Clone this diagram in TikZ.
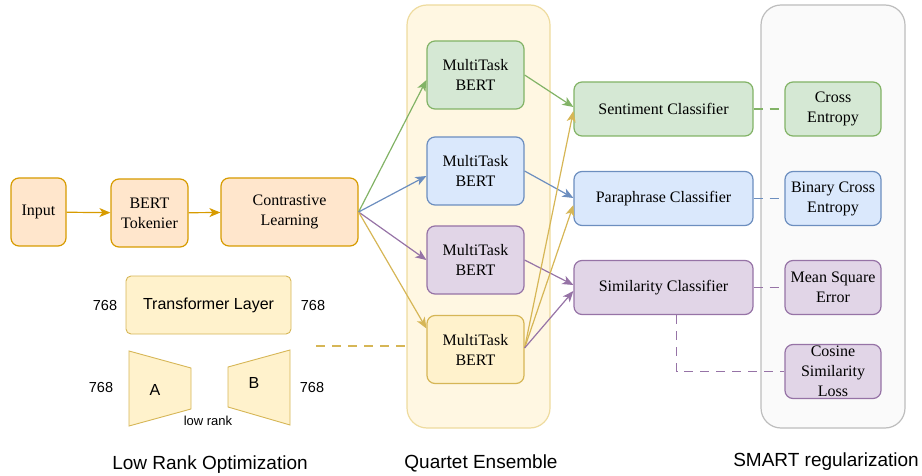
\documentclass[tikz,border=0pt]{standalone}
\usepackage{fontspec}
\setmainfont{Liberation Serif}
\setsansfont{Liberation Sans}
\usetikzlibrary{arrows.meta,calc}
\definecolor{oF}{HTML}{FFE6CC}\definecolor{oD}{HTML}{D79B00}
\definecolor{yF}{HTML}{FFF2CC}\definecolor{yD}{HTML}{D6B656}
\definecolor{gF}{HTML}{D5E8D4}\definecolor{gD}{HTML}{82B366}
\definecolor{bF}{HTML}{DAE8FC}\definecolor{bD}{HTML}{6C8EBF}
\definecolor{pF}{HTML}{E1D5E7}\definecolor{pD}{HTML}{9673A6}
\definecolor{qF}{HTML}{FFF7E2}\definecolor{qD}{HTML}{EEDB9E}
\definecolor{sF}{HTML}{FAFAFA}\definecolor{sD}{HTML}{BDBDBD}
\tikzset{
  box/.style={draw, line width=1.2pt, rounded corners=8pt, inner sep=0pt, align=center,
    font=\fontsize{16}{20}\selectfont},
  orbox/.style={box, fill=oF, draw=oD},
  yebox/.style={box, fill=yF, draw=yD},
  grbox/.style={box, fill=gF, draw=gD},
  blbox/.style={box, fill=bF, draw=bD},
  pubox/.style={box, fill=pF, draw=pD},
  mtbox/.style={minimum width=97pt, minimum height=68pt},
  clsbox/.style={minimum width=179pt, minimum height=54pt},
  lossbox/.style={minimum width=96pt, minimum height=54pt},
  conn/.style={line width=1.2pt, -{Stealth[length=11pt,width=9pt,inset=3pt]}},
  dconn/.style={line width=1.3pt, dash pattern=on 9pt off 7pt},
  sanslbl/.style={font=\sffamily\fontsize{14.5}{17}\selectfont, inner sep=0pt},
  caption/.style={font=\sffamily\fontsize{19}{22}\selectfont, inner sep=0pt},
  container/.style={line width=1.2pt, rounded corners=20pt, inner sep=0pt},
}
\begin{document}
\begin{tikzpicture}[x=1pt,y=-1pt]
\useasboundingbox (0,0) rectangle (922,476);
% containers
\node[container, fill=qF, draw=qD, minimum width=143pt, minimum height=423pt] (qe) at (478.5,216.5) {};
\node[container, fill=sF, draw=sD, minimum width=144pt, minimum height=423pt] (sm) at (833,216.5) {};
% left chain
\node[orbox, minimum width=55pt, minimum height=68pt] (in) at (38.5,212) {Input};
\node[orbox, minimum width=77pt, minimum height=68pt] (tok) at (149.5,213) {BERT\\Tokenier};
\node[orbox, minimum width=137pt, minimum height=68pt] (cl) at (289.5,212) {Contrastive\\Learning};
\draw[conn, oD] (in) -- (tok);
\draw[conn, oD] (tok) -- (cl);
% multitask
\node[grbox, mtbox] (mt1) at (475.5,75) {MultiTask\\BERT};
\node[blbox, mtbox] (mt2) at (475.5,171) {MultiTask\\BERT};
\node[pubox, mtbox] (mt3) at (475.5,260) {MultiTask\\BERT};
\node[yebox, mtbox] (mt4) at (475.5,349.5) {MultiTask\\BERT};
% classifiers
\node[grbox, clsbox] (sc) at (663.5,109) {Sentiment Classifier};
\node[blbox, clsbox] (pc) at (663.5,198.5) {Paraphrase Classifier};
\node[pubox, clsbox] (sim) at (663.5,287.5) {Similarity Classifier};
% losses
\node[grbox, lossbox] (ce) at (833,109) {Cross\\Entropy};
\node[blbox, lossbox] (bce) at (833,198.5) {Binary Cross\\Entropy};
\node[pubox, lossbox] (mse) at (833,287.5) {Mean Square\\Error};
\node[pubox, lossbox] (cos) at (833,371.5) {Cosine\\Similarity\\Loss};
% arrows from contrastive learning
\draw[conn, gD] (cl.east) -- ([yshift=-5pt]mt1.west);
\draw[conn, bD] (cl.east) -- ([yshift=-5pt]mt2.west);
\draw[conn, pD] (cl.east) -- (mt3.west);
\draw[conn, yD] (cl.east) -- ([yshift=21pt]mt4.west);
% arrows to classifiers
\draw[conn, gD] (mt1.east) -- ([yshift=2pt]sc.west);
\draw[conn, bD] (mt2.east) -- ([yshift=0.5pt]pc.west);
\draw[conn, pD] (mt3.east) -- ([yshift=2.5pt]sim.west);
\coordinate (y0) at ([yshift=1.5pt]mt4.east);
\draw[conn, yD] (y0) -- ([yshift=-2pt]sc.west);
\draw[conn, yD] (y0) -- ([yshift=-6.5pt]pc.west);
\draw[conn, pD] (y0) -- ([yshift=-3.5pt]sim.west);
% dashed loss links
\draw[dconn, gD] (sc.east) -- (ce.west);
\draw[dconn, bD] (pc.east) -- (bce.west);
\draw[dconn, pD] (sim.east) -- (mse.west);
\draw[dconn, pD] ([xshift=13pt]sim.south) |- (cos.west);
% low rank part
\node[box, fill=yF, draw=yD, line width=0.9pt, rounded corners=5pt, minimum width=165pt, minimum height=58pt,
  font=\sffamily\fontsize{16}{19}\selectfont] (tl) at (208.5,305) {Transformer Layer};
\node[sanslbl] (n1) at (105,306) {768};
\node[sanslbl] (n2) at (313,306) {768};
\draw[fill=yF, draw=yD, line width=0.9pt] (129,351) -- (191,368) -- (191,409) -- (129,426) -- cycle;
\draw[fill=yF, draw=yD, line width=0.9pt] (290,350) -- (228,367) -- (228,407) -- (290,425) -- cycle;
\node[sanslbl, font=\sffamily\fontsize{16}{19}\selectfont] (la) at (155,390) {A};
\node[sanslbl, font=\sffamily\fontsize{16}{19}\selectfont] (lb) at (254,383) {B};
\node[sanslbl] (n3) at (101,388) {768};
\node[sanslbl] (n4) at (312,388) {768};
\node[sanslbl, font=\sffamily\fontsize{13}{15}\selectfont] (lr) at (208,421) {low rank};
\coordinate (d1) at (316,346);
\draw[dconn, yD] (d1) -- (d1 -| qe.west);
% captions
\node[caption] (c1) at (210,465) {Low Rank Optimization};
\node[caption] (c2) at (481,463) {Quartet Ensemble};
\node[caption] (c3) at (826,462) {SMART regularization};
\end{tikzpicture}
\end{document}
